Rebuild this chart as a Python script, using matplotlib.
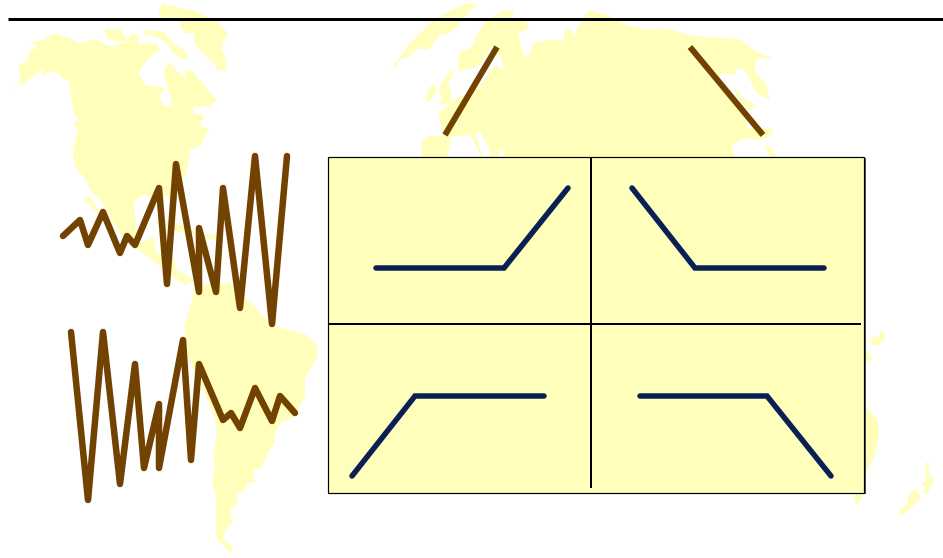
import matplotlib
matplotlib.use("Agg")
import matplotlib.pyplot as plt
import numpy as np

# everything, in pixels of the 943x558 image
top_x = [63, 80, 88, 103, 120, 127, 135, 159, 167, 176, 199, 199, 216, 223, 240, 255, 272, 287]
top_y = [236, 220, 245, 212, 253, 236, 245, 188, 284, 164, 292, 228, 292, 188, 308, 156, 324, 156]
bottom_x = [71, 88, 103, 120, 135, 144, 159, 159, 183, 191, 199, 223, 231, 240, 255, 272, 280, 295]
bottom_y = [332, 500, 332, 484, 364, 468, 404, 468, 340, 460, 364, 420, 413, 428, 388, 421, 396, 413]
left_rise = ([445, 497], [135, 47])
right_fall = ([690, 763], [47, 135])

panel_lines = [
    ([376, 504, 568], [268, 268, 188]),
    ([632, 695, 824], [188, 268, 268]),
    ([352, 415, 544], [476, 396, 396]),
    ([640, 767, 831], [396, 396, 476]),
]

# land outlines, traced on 3x crops (crop origin added below)
america_crop = [
    [(22, 280), (60, 250), (57, 195), (85, 180), (90, 150), (112, 145), (95, 125), (130, 120), (160, 100),
     (210, 115), (235, 130), (290, 118), (335, 143), (365, 128), (410, 130), (470, 130), (480, 150), (440, 180),
     (415, 220), (440, 258), (480, 260), (500, 270), (478, 285), (490, 320), (515, 315), (510, 280), (490, 225),
     (505, 185), (555, 235), (555, 208), (580, 215), (620, 265), (650, 300), (625, 320), (580, 322), (580, 342),
     (612, 345), (600, 380), (625, 385), (605, 432), (570, 450), (560, 520), (535, 560), (525, 640), (505, 590),
     (470, 590), (425, 585), (400, 610), (405, 650), (420, 730), (460, 710), (470, 760), (520, 770), (530, 810),
     (580, 840), (560, 855), (530, 840), (470, 790), (415, 750), (360, 700), (300, 600), (270, 570), (262, 545),
     (225, 500), (218, 460), (232, 395), (222, 365), (240, 362), (220, 340), (215, 300), (205, 240), (190, 238),
     (175, 220), (145, 215), (122, 230), (130, 205), (85, 240), (60, 255)],
    [(250, 595), (272, 590), (300, 640), (285, 635)],
    [(460, 665), (530, 670), (600, 700), (650, 705), (650, 720), (590, 710), (520, 690)],
    [(485, 10), (590, 35), (650, 65), (685, 100), (670, 125), (665, 150), (678, 175), (678, 212), (655, 212),
     (640, 190), (600, 150), (580, 125), (585, 100), (555, 100), (535, 65), (475, 50)],
    [(315, 85), (340, 90), (360, 85), (385, 125), (345, 125), (320, 115)],
    [(430, 90), (490, 95), (520, 130), (560, 155), (560, 180), (530, 170), (500, 130), (470, 110), (435, 105)],
    [(395, 100), (420, 110), (410, 130), (380, 130)],
]
south_america_px = [
    (192, 300), (184, 328), (188, 357), (213, 413), (217, 430), (214, 453), (215, 470), (212, 483), (216, 497),
    (216, 537), (225, 548), (232, 554), (233, 548), (223, 538), (226, 528), (233, 522), (230, 510), (237, 503),
    (237, 493), (243, 492), (248, 483), (255, 482), (253, 470), (262, 467), (268, 452), (275, 443), (275, 433),
    (282, 422), (293, 418), (305, 397), (305, 378), (317, 358), (317, 345), (307, 335), (273, 326), (243, 295),
    (230, 283), (195, 285)]
eurasia_crop = [
    [(125, 470), (125, 430), (140, 408), (190, 408), (175, 340), (240, 290), (260, 285), (300, 255), (345, 195),
     (372, 212), (365, 175), (335, 140), (300, 195), (275, 205), (235, 215), (235, 180), (240, 155), (270, 145),
     (300, 90), (320, 60), (370, 32), (405, 35), (390, 55), (440, 65), (445, 85), (415, 100), (420, 130),
     (430, 165), (450, 165), (460, 130), (500, 120), (550, 122), (555, 90), (575, 90), (580, 110), (610, 50),
     (630, 30), (680, 45), (740, 75), (800, 88), (860, 85), (910, 100), (940, 108), (1080, 118), (1130, 155),
     (1180, 175), (1130, 175), (1125, 215), (1160, 255), (1170, 300), (1130, 280), (1095, 210), (1070, 205),
     (1065, 225), (1030, 218), (1010, 240), (1060, 290), (1100, 330), (1100, 415), (1060, 430), (1055, 445),
     (1070, 475), (125, 475)],
    [(35, 203), (60, 170), (85, 135), (120, 100), (165, 55), (215, 30), (265, 10), (292, 12), (260, 45), (235, 75),
     (205, 100), (190, 108), (190, 95), (165, 125), (145, 150), (115, 145), (85, 170), (60, 178), (48, 200)],
    [(175, 270), (195, 235), (215, 205), (218, 225), (205, 250), (215, 290), (215, 310), (175, 315), (185, 290)],
    [(135, 310), (150, 260), (170, 250), (165, 285), (150, 300)],
    [(1060, 255), (1085, 290), (1130, 320), (1105, 330), (1070, 290)],
    [(1100, 385), (1175, 385), (1175, 410), (1130, 420), (1100, 415)],
    [(1155, 430), (1175, 445), (1192, 475), (1170, 475)],
]
sea_crop = [
    [(200, 475), (215, 410), (270, 405), (285, 430), (305, 475)],
    [(285, 400), (300, 395), (325, 440), (332, 475), (310, 475)],
    [(350, 475), (365, 445), (375, 475)],
]
oceania_px = [
    [(860, 400), (878, 420), (879, 435), (875, 455), (868, 470), (858, 490), (858, 400)],
    [(854, 493), (863, 495), (858, 504), (855, 503)],
    [(865, 349), (872, 357), (870, 362), (865, 360)],
    [(870, 345), (873, 336), (880, 337), (879, 330), (884, 332), (884, 340), (878, 345)],
    [(897, 513), (908, 503), (908, 497), (915, 488), (921, 497), (913, 506), (903, 515)],
    [(925, 463), (928, 462), (930, 477), (935, 478), (930, 488), (928, 494), (923, 493), (925, 487), (921, 483),
     (926, 480)],
]

land = "#ffffbb"
brown = "#714200"
navy = "#0a2055"
px = 0.72  # points per pixel at dpi 100


def crop_to_px(points, x0, y0):
    arr = np.array(points, dtype=float) / 3
    return arr + [x0, y0]


fig = plt.figure(figsize=(9.43, 5.58), dpi=100)
ax = fig.add_axes([0, 0, 1, 1])
ax.set_xlim(0, 943)
ax.set_ylim(558, 0)
ax.axis("off")

for shape in america_crop:
    ax.fill(*crop_to_px(shape, 0, 0).T, color=land, lw=0, zorder=1)
ax.fill(*np.array(south_america_px).T, color=land, lw=0, zorder=1)
for shape in eurasia_crop:
    ax.fill(*crop_to_px(shape, 380, 0).T, color=land, lw=0, zorder=1)
for shape in sea_crop:
    ax.fill(*crop_to_px(shape, 380, 0).T, color="white", lw=0, zorder=2)
for shape in oceania_px:
    ax.fill(*np.array(shape).T, color=land, lw=0, zorder=1)

# title rule
ax.plot([8, 943], [19, 19], color="black", lw=3 * px, solid_capstyle="butt", zorder=3)

# shadow, then the panel
ax.fill([329, 865.5, 865.5, 329], [158, 158, 494, 494], color="#555555", lw=0, zorder=3)
ax.fill([328, 864, 864, 328], [157, 157, 493, 493], facecolor=land, edgecolor="black", lw=1.2 * px, zorder=4)
ax.plot([591, 591], [157, 488], color="black", lw=2 * px, solid_capstyle="butt", zorder=5)
ax.plot([328, 861], [324, 324], color="black", lw=2 * px, solid_capstyle="butt", zorder=5)

for xs, ys in panel_lines:
    ax.plot(xs, ys, color=navy, lw=5.5 * px, solid_capstyle="round", solid_joinstyle="miter", zorder=6)

ax.plot(top_x, top_y, color=brown, lw=6.5 * px, solid_capstyle="round", solid_joinstyle="round", zorder=6)
ax.plot(bottom_x, bottom_y, color=brown, lw=6.5 * px, solid_capstyle="round", solid_joinstyle="round", zorder=6)
ax.plot(*left_rise, color=brown, lw=6 * px, solid_capstyle="butt", zorder=6)
ax.plot(*right_fall, color=brown, lw=6 * px, solid_capstyle="butt", zorder=6)

fig.savefig("out.png", dpi=100)
